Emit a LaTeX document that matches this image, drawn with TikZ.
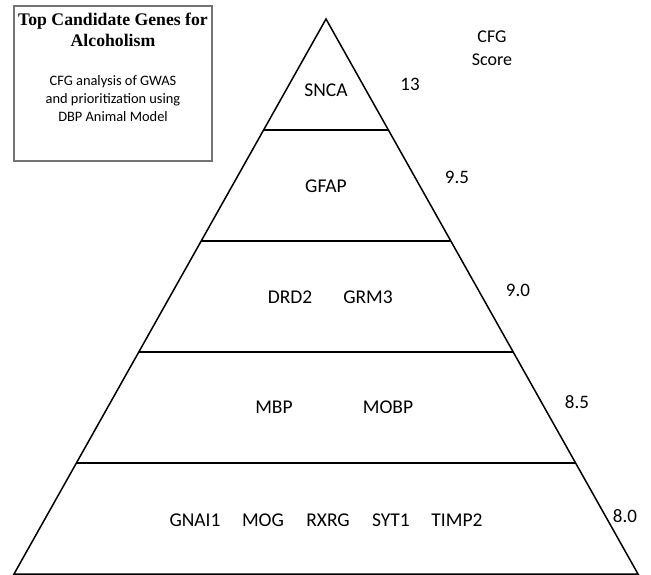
\documentclass[tikz,border=0pt]{standalone}
\usepackage{fontspec}
\setmainfont{Carlito}
\newfontfamily\titlefont{Liberation Serif}
\usetikzlibrary{calc}

\begin{document}
\begin{tikzpicture}[
  x=1pt, y=-1pt,
  tri/.style={draw=black, line width=1.5pt, line join=miter},
  tier/.style={draw=black, line width=1.5pt},
  infobox/.style={draw=black!55, line width=1.1pt, minimum width=198pt, minimum height=155pt, inner sep=0pt},
  gene/.style={font=\fontsize{19.5}{23}\selectfont, anchor=base, inner sep=0pt},
  score/.style={font=\fontsize{19}{23}\selectfont, anchor=base, inner sep=0pt},
  boxtitle/.style={font=\titlefont\bfseries\fontsize{17.7}{21}\selectfont, align=center, anchor=base, inner sep=0pt},
  boxtext/.style={font=\fontsize{14.4}{18}\selectfont, align=center, anchor=base, inner sep=0pt}
]
  \useasboundingbox (0,0) rectangle (651,575);

  % pyramid outline
  \coordinate (apex) at (326,19);
  \coordinate (bl)   at (14,574);
  \coordinate (br)   at (638,574);
  \draw[tri] (apex) -- (bl) -- (br) -- cycle;

  % tier separators
  \foreach \t in {0.2,0.4,0.6,0.8} {
    \draw[tier] ($(apex)!\t!(bl)$) -- ($(apex)!\t!(br)$);
  }

  % legend box (base anchor sits on the last line)
  \node[infobox] (legend) at (113,83.5) {};
  \node[boxtitle] (title) at (113,47) {Top Candidate Genes for\\Alcoholism};
  \node[boxtext] (method) at (113,121.5) {CFG analysis of GWAS\\and prioritization using\\DBP Animal Model};

  % score header
  \node[score, align=center, font=\fontsize{18}{23}\selectfont] (hdr) at (492,66) {CFG\\Score};

  % genes per tier
  \node[gene] (snca)  at (326,96.5)  {SNCA};
  \node[gene] (gfap)  at (326,192.5) {GFAP};
  \node[gene] (drd2)  at (290,303.5) {DRD2};
  \node[gene] (grm3)  at (368,303.5) {GRM3};
  \node[gene] (mbp)   at (274,413.5) {MBP};
  \node[gene] (mobp)  at (388,413.5) {MOBP};
  \node[gene] (gnai1) at (195,526.5) {GNAI1};
  \node[gene] (mog)   at (263,526.5) {MOG};
  \node[gene] (rxrg)  at (328,526.5) {RXRG};
  \node[gene] (syt1)  at (391,526.5) {SYT1};
  \node[gene] (timp2) at (457,526.5) {TIMP2};

  % scores
  \node[score] (s1) at (410,91)  {13};
  \node[score] (s2) at (457,184) {9.5};
  \node[score] (s3) at (518,296) {9.0};
  \node[score] (s4) at (577,408) {8.5};
  \node[score] (s5) at (625,522) {8.0};
\end{tikzpicture}
\end{document}
